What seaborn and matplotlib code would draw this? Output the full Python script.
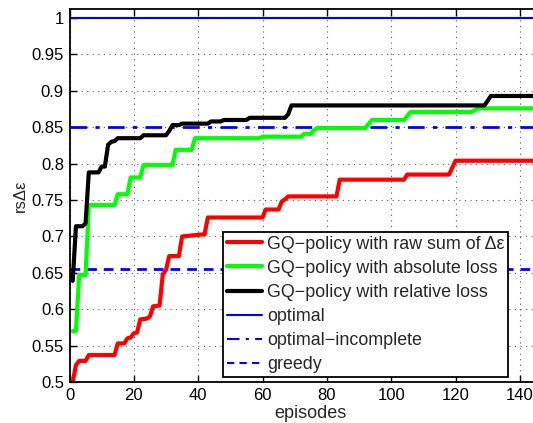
import numpy as np
import pandas as pd
import matplotlib
matplotlib.use("Agg")
import matplotlib.pyplot as plt
import seaborn as sns

# ---- data ----
raw_x = [1, 2, 3, 5, 6, 14, 15, 17, 18, 19, 20, 21, 22, 24, 25, 26, 28, 29, 30, 31, 34, 35, 42, 43, 60, 61, 65, 66, 67, 68, 83, 84, 104, 105, 118, 120, 150]
raw_y = [0.500, 0.523, 0.529, 0.529, 0.537, 0.537, 0.553, 0.553, 0.560, 0.561, 0.567, 0.568, 0.586, 0.587, 0.590, 0.604, 0.605, 0.648, 0.654, 0.673, 0.673, 0.700, 0.703, 0.726, 0.726, 0.737, 0.737, 0.748, 0.751, 0.755, 0.755, 0.778, 0.778, 0.785, 0.785, 0.804, 0.804]

abs_x = [1, 2, 3, 5, 6, 14, 15, 18, 19, 22, 23, 32, 33, 38, 39, 59, 60, 72, 73, 75, 76, 77, 92, 94, 104, 106, 125, 127, 150]
abs_y = [0.570, 0.570, 0.647, 0.647, 0.743, 0.743, 0.758, 0.758, 0.781, 0.781, 0.798, 0.798, 0.819, 0.819, 0.835, 0.835, 0.837, 0.837, 0.841, 0.841, 0.846, 0.849, 0.849, 0.860, 0.860, 0.871, 0.871, 0.876, 0.876]

rel_x = [1, 2, 4, 5, 6, 9, 10, 11, 12, 13, 14, 15, 22, 23, 30, 31, 32, 34, 35, 43, 44, 47, 48, 55, 56, 67, 68, 69, 129, 131, 150]
rel_y = [0.639, 0.714, 0.714, 0.718, 0.788, 0.788, 0.796, 0.796, 0.826, 0.830, 0.831, 0.835, 0.835, 0.839, 0.839, 0.845, 0.853, 0.853, 0.855, 0.855, 0.858, 0.858, 0.860, 0.860, 0.863, 0.863, 0.868, 0.880, 0.880, 0.893, 0.893]

optimal = 1.0
optimal_incomplete = 0.85
greedy = 0.655

labels = ["GQ\u2212policy with raw sum of \u0394\u03b5",
          "GQ\u2212policy with absolute loss",
          "GQ\u2212policy with relative loss",
          "optimal",
          "optimal\u2212incomplete",
          "greedy"]

x_ticks = [0, 20, 40, 60, 80, 100, 120, 140]
y_ticks = [0.5, 0.55, 0.6, 0.65, 0.7, 0.75, 0.8, 0.85, 0.9, 0.95, 1.0]
y_tick_labels = ["0.5", "0.55", "0.6", "0.65", "0.7", "0.75", "0.8", "0.85", "0.9", "0.95", "1"]

FS = 12.0
LFS = 12.9

# ---- style ----
sns.set_style("ticks")
plt.rcParams["font.family"] = ["Liberation Sans", "DejaVu Sans"]
plt.rcParams["font.size"] = FS

fig = plt.figure(figsize=(5.33, 4.23), dpi=100)
ax = fig.add_axes([69.5 / 533, 1 - 382 / 423, (552 - 69.5) / 533, (382 - 9) / 423])

ax.grid(True, linestyle=(0, (1, 4)), color="0.35", linewidth=0.8)
ax.set_axisbelow(True)

# reference lines
h_opt = ax.axhline(optimal, color="#0000ff", linewidth=1.5, linestyle="-")
h_inc = ax.axhline(optimal_incomplete, color="#0000ff", linewidth=2.0,
                   linestyle=(0, (6, 3, 1.5, 3)))
h_gre = ax.axhline(greedy, color="#0000ff", linewidth=2.0, linestyle=(0, (3.5, 2.5)))

sns.lineplot(x=raw_x, y=raw_y, ax=ax, color="#ff0000", linewidth=3.0,
             sort=False, estimator=None)
sns.lineplot(x=abs_x, y=abs_y, ax=ax, color="#00ff00", linewidth=3.0,
             sort=False, estimator=None)
sns.lineplot(x=rel_x, y=rel_y, ax=ax, color="#000000", linewidth=3.0,
             sort=False, estimator=None)

lines = ax.get_lines()
h_raw, h_abs, h_rel = lines[-3], lines[-2], lines[-1]

ax.set_xlim(0, 150)
ax.set_ylim(0.5, 1.0125)
ax.set_xticks(x_ticks)
ax.set_yticks(y_ticks)
ax.set_yticklabels(y_tick_labels)
ax.tick_params(direction="in", top=True, right=True, length=5, width=1.0,
               labelsize=FS, colors="black", pad=4)
for s in ax.spines.values():
    s.set_linewidth(1.3)
    s.set_color("black")

ax.set_xlabel("episodes", fontsize=13, labelpad=2)
ax.set_ylabel("rs\u0394\u03b5", fontsize=FS, labelpad=3)

leg = fig.legend([h_raw, h_abs, h_rel, h_opt, h_inc, h_gre], labels,
                 loc="lower left", bbox_to_anchor=(223 / 533, 1 - 377 / 423),
                 fontsize=LFS, frameon=True, fancybox=False, framealpha=1,
                 edgecolor="black", handlelength=2.0, handletextpad=0.25,
                 labelspacing=0.4, borderpad=0.2, borderaxespad=0)
leg.get_frame().set_linewidth(1.3)
for h in leg.legend_handles[:3]:
    h.set_linewidth(3.0)
for h in leg.legend_handles[3:]:
    h.set_linewidth(1.5)

fig.savefig("out.png", dpi=100)
